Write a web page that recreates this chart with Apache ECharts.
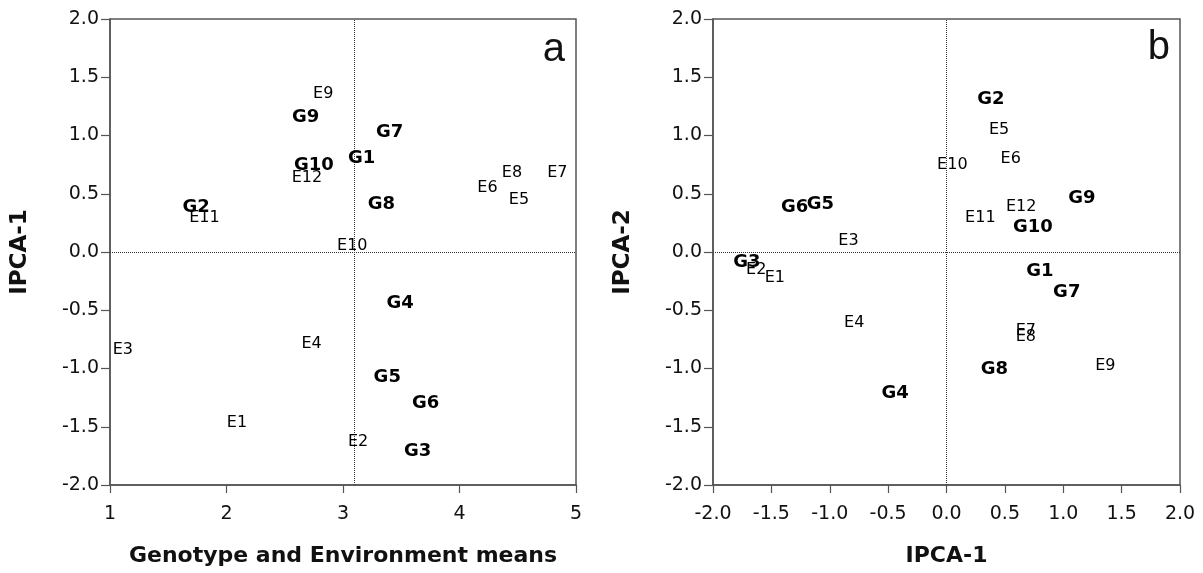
<!DOCTYPE html>
<html><head><meta charset="utf-8">
<script src="https://cdn.jsdelivr.net/npm/echarts@6/dist/echarts.min.js"></script>
<style>html,body{margin:0;padding:0;background:#fff}#c{width:1203px;height:573px}</style>
</head><body><div id="c"></div>
<script>
// Genotypes
const gNames = ['G1','G2','G3','G4','G5','G6','G7','G8','G9','G10'];
const gMeans = [3.16,1.74,3.64,3.49,3.38,3.71,3.40,3.33,2.68,2.75];
const gIPCA1 = [0.80,0.38,-1.71,-0.44,-1.08,-1.30,1.03,0.41,1.16,0.74];
const gIPCA2 = [-0.17,1.31,-0.09,-1.21,0.41,0.38,-0.35,-1.01,0.46,0.21];
// Environments
const eNames = ['E1','E2','E3','E4','E5','E6','E7','E8','E9','E10','E11','E12'];
const eMeans = [2.09,3.13,1.11,2.73,4.51,4.24,4.84,4.45,2.83,3.08,1.81,2.69];
const eIPCA1 = [-1.47,-1.63,-0.84,-0.79,0.45,0.55,0.68,0.68,1.36,0.05,0.29,0.64];
const eIPCA2 = [-0.22,-0.15,0.10,-0.61,1.05,0.80,-0.68,-0.73,-0.98,0.75,0.29,0.39];
// Reference lines
const grandMean = 3.1;
// Axis ranges [min, max, interval]
const aXRange = [1,5,1];
const yRange = [-2,2,0.5];
const bXRange = [-2,2,0.5];

const FONT = 'DejaVu Sans, Verdana, sans-serif';
const axisCol = '#555';
function pts(xs, ys, names){ return names.map((n,i)=>({name:n, value:[xs[i], ys[i]]})); }
function labelSeries(idx, data, bold){
  return {type:'scatter', xAxisIndex:idx, yAxisIndex:idx, symbolSize:1,
    itemStyle:{color:'rgba(0,0,0,0)', opacity:1},
    data:data, silent:true, z:5,
    label:{show:true, position:'inside', formatter:p=>p.name, color:'#000', opacity:1, fontFamily:FONT,
      fontSize: bold?18:16, fontWeight: bold?'bold':'normal'}};
}
function xAx(idx, r, name, fmt){
  return {gridIndex:idx, type:'value', min:r[0], max:r[1], interval:r[2], name:name,
    nameLocation:'middle', nameGap:60, nameTextStyle:{fontFamily:FONT, fontSize:22, fontWeight:'bold', color:'#111'},
    axisLine:{show:true, onZero:false, lineStyle:{color:axisCol, width:1.5}},
    axisTick:{show:true, inside:false, length:8, lineStyle:{color:axisCol, width:1.2}},
    axisLabel:{margin:20, fontFamily:FONT, fontSize:19, color:'#111', formatter:fmt},
    splitLine:{show:false}};
}
function yAx(idx, name){
  return {gridIndex:idx, type:'value', min:yRange[0], max:yRange[1], interval:yRange[2], name:name,
    nameLocation:'middle', nameGap:78, nameTextStyle:{fontFamily:FONT, fontSize:23, fontWeight:'bold', color:'#111'},
    axisLine:{show:true, onZero:false, lineStyle:{color:axisCol, width:1.5}},
    axisTick:{show:true, inside:false, length:9, lineStyle:{color:axisCol, width:1.2}},
    axisLabel:{margin:11, fontFamily:FONT, fontSize:19, color:'#111', formatter:v=>v.toFixed(1)},
    splitLine:{show:false}};
}
const dotted = {type:'dotted', color:'#333', width:1};
function refLines(idx, xv){
  return {type:'scatter', xAxisIndex:idx, yAxisIndex:idx, data:[], silent:true,
    markLine:{silent:true, symbol:'none', label:{show:false}, lineStyle:dotted, animation:false,
      data:[{yAxis:0},{xAxis:xv}]}};
}
const chart = echarts.init(document.getElementById('c'), null, {renderer:'canvas'});
chart.setOption({
  animation:false,
  backgroundColor:'#fff',
  grid:[
    {left:110, top:19, width:466, height:466, show:true, borderColor:axisCol, borderWidth:1.5},
    {left:713, top:19, width:467, height:466, show:true, borderColor:axisCol, borderWidth:1.5}
  ],
  graphic:[
    {type:'text', x:565, y:50, style:{text:'a', font:'40px "Liberation Sans", Arial, sans-serif', fill:'#111', textAlign:'right', textVerticalAlign:'middle'}},
    {type:'text', x:1170, y:48, style:{text:'b', font:'40px "Liberation Sans", Arial, sans-serif', fill:'#111', textAlign:'right', textVerticalAlign:'middle'}}
  ],
  xAxis:[ xAx(0, aXRange, 'Genotype and Environment means', v=>String(v)),
          xAx(1, bXRange, 'IPCA-1', v=>v.toFixed(1)) ],
  yAxis:[ yAx(0,'IPCA-1'), yAx(1,'IPCA-2') ],
  series:[
    refLines(0, grandMean),
    refLines(1, 0),
    labelSeries(0, pts(eMeans, eIPCA1, eNames), false),
    labelSeries(0, pts(gMeans, gIPCA1, gNames), true),
    labelSeries(1, pts(eIPCA1, eIPCA2, eNames), false),
    labelSeries(1, pts(gIPCA1, gIPCA2, gNames), true)
  ]
});
</script></body></html>
